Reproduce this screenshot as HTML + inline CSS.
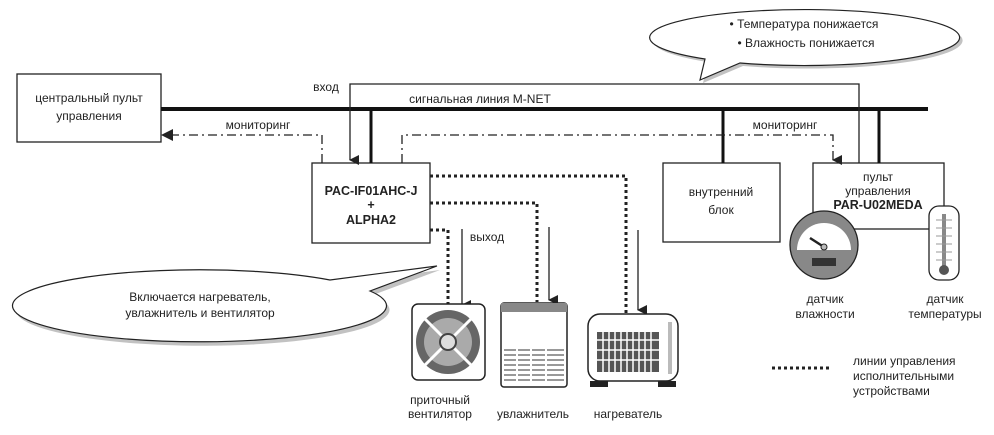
<!DOCTYPE html>
<html><head><meta charset="utf-8"><style>
html,body{margin:0;padding:0;background:#fff;}
svg{display:block;}
text{font-family:"Liberation Sans",sans-serif;font-size:12px;fill:#222;}
.b{font-weight:bold;font-size:12.5px;}
</style></head><body>
<svg width="994" height="435" viewBox="0 0 994 435" xmlns="http://www.w3.org/2000/svg">
<defs>
<marker id="ah" markerWidth="10" markerHeight="10" refX="5" refY="9" orient="auto" markerUnits="userSpaceOnUse" viewBox="0 0 10 10"><path d="M0,0 L10,0 L5,10 Z" fill="#222"/></marker>
</defs>
<!-- top bubble -->
<path d="M700,80 L705,59 A155,28 0 1 1 740,63 Z" fill="#999" transform="translate(3,3)" opacity="0.6"/>
<path d="M700,80 L705,59 A155,28 0 1 1 740,63 Z" fill="#fff" stroke="#222" stroke-width="1.2"/>
<text x="804" y="28" text-anchor="middle">• Температура понижается</text>
<text x="806" y="47" text-anchor="middle">• Влажность понижается</text>
<!-- left bubble -->
<path d="M437,266 L330,280 A187,36 0 1 0 370,291 Z" fill="#999" transform="translate(3,4)" opacity="0.6"/>
<path d="M437,266 L330,280 A187,36 0 1 0 370,291 Z" fill="#fff" stroke="#222" stroke-width="1.2"/>
<text x="200" y="301" text-anchor="middle">Включается нагреватель,</text>
<text x="200" y="317" text-anchor="middle">увлажнитель и вентилятор</text>
<!-- boxes -->
<rect x="17" y="74" width="144" height="68" fill="#fff" stroke="#222" stroke-width="1.3"/>
<text x="89" y="102" text-anchor="middle">центральный пульт</text>
<text x="89" y="120" text-anchor="middle">управления</text>
<rect x="312" y="163" width="118" height="80" fill="#fff" stroke="#222" stroke-width="1.3"/>
<text x="371" y="195" text-anchor="middle" class="b">PAC-IF01AHC-J</text>
<text x="371" y="209" text-anchor="middle" class="b">+</text>
<text x="371" y="224" text-anchor="middle" class="b">ALPHA2</text>
<rect x="663" y="163" width="117" height="79" fill="#fff" stroke="#222" stroke-width="1.3"/>
<text x="721" y="196" text-anchor="middle">внутренний</text>
<text x="721" y="214" text-anchor="middle">блок</text>
<rect x="813" y="163" width="131" height="66" fill="#fff" stroke="#222" stroke-width="1.3"/>
<text x="878" y="181" text-anchor="middle">пульт</text>
<text x="878" y="195" text-anchor="middle">управления</text>
<text x="878" y="209" text-anchor="middle" class="b">PAR-U02MEDA</text>
<!-- bus -->
<line x1="161" y1="109" x2="928" y2="109" stroke="#111" stroke-width="4"/>
<line x1="371" y1="109" x2="371" y2="163" stroke="#111" stroke-width="3"/>
<line x1="723" y1="109" x2="723" y2="163" stroke="#111" stroke-width="3"/>
<line x1="879" y1="109" x2="879" y2="163" stroke="#111" stroke-width="3"/>
<text x="480" y="103" text-anchor="middle">сигнальная линия M-NET</text>
<!-- input line -->
<path d="M859,163 L859,84 L350,84 L350,160" fill="none" stroke="#222" stroke-width="1.3" marker-end="url(#ah)"/>
<text x="326" y="91" text-anchor="middle">вход</text>
<!-- monitoring -->
<path d="M322,163 L322,135 L172,135" fill="none" stroke="#222" stroke-width="1.3" stroke-dasharray="9,4,2,4"/>
<path d="M161,135 L173,129 L173,141 Z" fill="#222"/>
<text x="258" y="129" text-anchor="middle">мониторинг</text>
<path d="M402,163 L402,135 L833,135 L833,160" fill="none" stroke="#222" stroke-width="1.3" stroke-dasharray="9,4,2,4" marker-end="url(#ah)"/>
<text x="785" y="129" text-anchor="middle">мониторинг</text>
<!-- dotted control lines -->
<g fill="none" stroke="#222" stroke-width="3" stroke-dasharray="3,3">
<path d="M430,176 L626,176 L626,313"/>
<path d="M430,203 L537,203 L537,302"/>
<path d="M430,230 L448,230 L448,304"/>
<path d="M772,368 L830,368"/>
</g>
<!-- output arrows -->
<line x1="462" y1="229" x2="462" y2="305" stroke="#222" stroke-width="1.3" marker-end="url(#ah)"/>
<line x1="549" y1="227" x2="549" y2="300" stroke="#222" stroke-width="1.3" marker-end="url(#ah)"/>
<line x1="638" y1="230" x2="638" y2="310" stroke="#222" stroke-width="1.3" marker-end="url(#ah)"/>
<text x="487" y="241" text-anchor="middle">выход</text>
<!-- fan -->
<rect x="412" y="304" width="73" height="76" rx="6" fill="#fff" stroke="#222" stroke-width="1.5"/>
<circle cx="448" cy="342" r="32" fill="#666"/>
<circle cx="448" cy="342" r="24" fill="#aaa"/>
<line x1="424" y1="318" x2="472" y2="366" stroke="#fff" stroke-width="3"/>
<line x1="472" y1="318" x2="424" y2="366" stroke="#fff" stroke-width="3"/>
<circle cx="448" cy="342" r="8" fill="#ddd" stroke="#444" stroke-width="2"/>
<!-- humidifier -->
<rect x="501" y="303" width="66" height="84" rx="3" fill="#fff" stroke="#222" stroke-width="1.5"/>
<rect x="501" y="303" width="66" height="9" fill="#888"/>
<g stroke="#333" stroke-width="1">
<path d="M504,350h60M504,355h60M504,360h60M504,365h60M504,370h60M504,375h60M504,380h60"/>
</g>
<path d="M517,346v36M531,346v36M546,346v36" stroke="#fff" stroke-width="2"/>
<!-- heater -->
<rect x="588" y="314" width="90" height="67" rx="12" fill="#fff" stroke="#222" stroke-width="1.5"/>
<rect x="597" y="332" width="62" height="40" fill="#555"/>
<g stroke="#fff" stroke-width="1.5">
<path d="M597,340h62M597,350h62M597,360h62"/>
<path d="M603,332v40M609,332v40M615,332v40M621,332v40M627,332v40M633,332v40M639,332v40M645,332v40M651,332v40"/>
</g>
<rect x="668" y="322" width="4" height="52" fill="#bbb"/>
<rect x="590" y="381" width="18" height="6" fill="#222"/><rect x="658" y="381" width="18" height="6" fill="#222"/>
<text x="440" y="404" text-anchor="middle">приточный</text>
<text x="440" y="418" text-anchor="middle">вентилятор</text>
<text x="533" y="418" text-anchor="middle">увлажнитель</text>
<text x="628" y="418" text-anchor="middle">нагреватель</text>
<!-- gauge -->
<circle cx="824" cy="245" r="34" fill="#888" stroke="#222" stroke-width="1.3"/>
<path d="M797,250 A27,27 0 0 1 851,250 Z" fill="#fff"/>
<line x1="810" y1="238" x2="824" y2="247" stroke="#222" stroke-width="2.5"/>
<circle cx="824" cy="247" r="3" fill="#bbb" stroke="#222"/>
<rect x="812" y="258" width="24" height="8" fill="#333"/>
<!-- thermometer -->
<rect x="929" y="206" width="30" height="74" rx="10" fill="#fff" stroke="#222" stroke-width="1.3"/>
<rect x="942" y="214" width="4" height="56" fill="#888"/>
<circle cx="944" cy="270" r="5" fill="#555"/>
<g stroke="#999" stroke-width="1"><path d="M936,220h16M936,228h16M936,236h16M936,244h16M936,252h16M936,260h16"/></g>
<text x="825" y="303" text-anchor="middle">датчик</text>
<text x="825" y="318" text-anchor="middle">влажности</text>
<text x="945" y="303" text-anchor="middle">датчик</text>
<text x="945" y="318" text-anchor="middle">температуры</text>
<text x="853" y="365">линии управления</text>
<text x="853" y="380">исполнительными</text>
<text x="853" y="395">устройствами</text>
</svg>
</body></html>
